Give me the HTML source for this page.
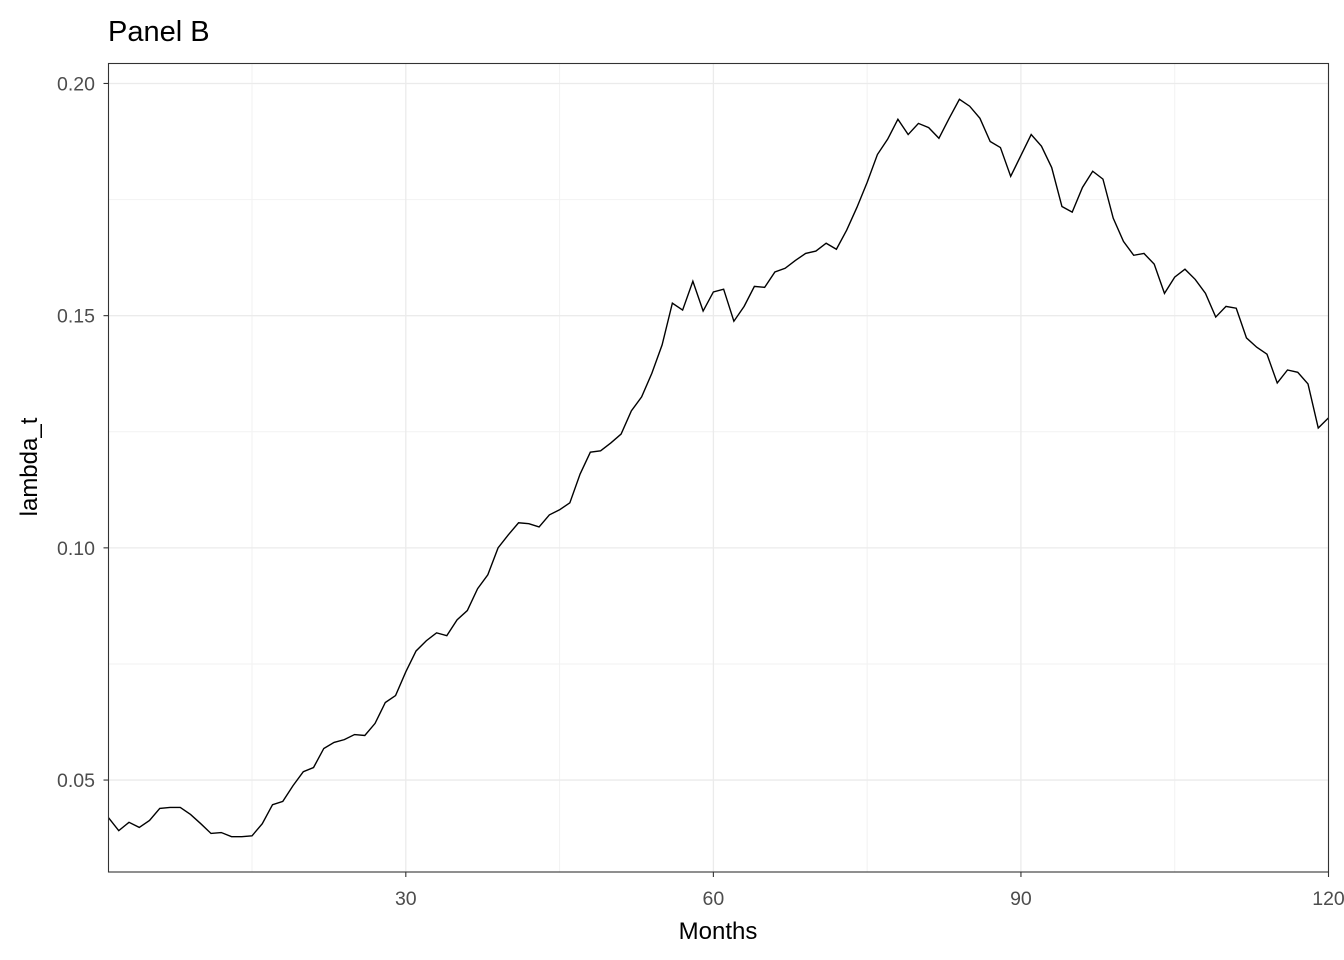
<!DOCTYPE html>
<html><head><meta charset="utf-8"><style>
body{margin:0;background:#fff;}
svg{display:block;font-family:"Liberation Sans",Arial,sans-serif;}
</style></head><body>
<svg width="1344" height="960" viewBox="0 0 1344 960">
<rect width="1344" height="960" fill="#fff"/>
<text x="108" y="41" font-size="29" fill="#000">Panel B</text>
<g id="grid"></g>
<g id="axes"></g>
<path id="line" fill="none" stroke="#000" stroke-width="1.4"/>
<rect x="108.5" y="63.5" width="1220" height="808.5" fill="none" stroke="#333" stroke-width="1.1"/>
<text x="718" y="939" font-size="24" text-anchor="middle" fill="#000">Months</text>
<text transform="translate(37,467) rotate(-90)" font-size="24" text-anchor="middle" fill="#000">lambda_t</text>
</svg>
<script>
const months = Array.from({length:120},(_,i)=>i+1);
const lambdaValues = [0.0419,0.0391,0.0409,0.0398,0.0413,0.0439,0.0441,0.0441,0.0426,0.0406,
0.0385,0.0387,0.0378,0.0378,0.0380,0.0406,0.0447,0.0454,0.0488,0.0518,
0.0527,0.0568,0.0581,0.0587,0.0598,0.0596,0.0622,0.0667,0.0682,0.0733,
0.0778,0.0800,0.0817,0.0811,0.0845,0.0865,0.0912,0.0942,0.1000,0.1028,
0.1054,0.1052,0.1045,0.1071,0.1082,0.1097,0.1159,0.1206,0.1209,0.1226,
0.1245,0.1295,0.1325,0.1376,0.1437,0.1527,0.1512,0.1574,0.1510,0.1551,
0.1557,0.1488,0.1520,0.1563,0.1561,0.1594,0.1602,0.1619,0.1634,0.1639,
0.1656,0.1643,0.1684,0.1733,0.1787,0.1847,0.1880,0.1923,0.1890,0.1914,
0.1905,0.1882,0.1925,0.1966,0.1951,0.1925,0.1875,0.1862,0.1800,0.1845,
0.1890,0.1865,0.1819,0.1735,0.1723,0.1776,0.1811,0.1794,0.1710,0.1660,
0.1630,0.1634,0.1611,0.1548,0.1583,0.1600,0.1578,0.1548,0.1497,0.1520,
0.1516,0.1452,0.1432,0.1417,0.1355,0.1383,0.1378,0.1353,0.1258,0.1280];
const xTicks = [30,60,90,120];
const xMinor = [15,45,75,105];
const yTicks = [0.05,0.10,0.15,0.20];
const yTickLabels = ["0.05","0.10","0.15","0.20"];
const yMinor = [0.075,0.125,0.175];

const X0=108.5,X1=1328.5,Y0=872,Y1=63.5;
const xMin=1,xMax=120,yMin=0.0302,yMax=0.2043;
const xs=v=>X0+(v-xMin)/(xMax-xMin)*(X1-X0);
const ys=v=>Y0-(v-yMin)/(yMax-yMin)*(Y0-Y1);
const NS="http://www.w3.org/2000/svg";
const grid=document.getElementById('grid'), axes=document.getElementById('axes');
function line(g,x1,y1,x2,y2,c,w){const l=document.createElementNS(NS,'line');
l.setAttribute('x1',x1);l.setAttribute('y1',y1);l.setAttribute('x2',x2);l.setAttribute('y2',y2);
l.setAttribute('stroke',c);l.setAttribute('stroke-width',w);g.appendChild(l);return l;}
function text(g,x,y,s,anchor){const t=document.createElementNS(NS,'text');
t.setAttribute('x',x);t.setAttribute('y',y);t.setAttribute('font-size','19.5');t.setAttribute('fill','#4d4d4d');
t.setAttribute('text-anchor',anchor);t.textContent=s;g.appendChild(t);return t;}
xMinor.forEach(v=>{const l=line(grid,xs(v),Y1,xs(v),Y0,'#f2f2f2',1);

});
yMinor.forEach(v=>{const l=line(grid,X0,ys(v),X1,ys(v),'#f2f2f2',1);

});
xTicks.forEach(v=>{const l=line(grid,xs(v),Y1,xs(v),Y0,'#ebebeb',1.3);


const tk=line(axes,xs(v),Y0,xs(v),Y0+5,'#333',1.1);


const t=text(axes,xs(v),905,String(v),'middle');

});
yTicks.forEach((v,i)=>{const l=line(grid,X0,ys(v),X1,ys(v),'#ebebeb',1.3);


const tk=line(axes,X0-5,ys(v),X0,ys(v),'#333',1.1);


const t=text(axes,95,ys(v)+7,yTickLabels[i],'end');

});
document.getElementById('line').setAttribute('d',
 months.map((m,i)=>(i?'L':'M')+xs(m).toFixed(2)+','+ys(lambdaValues[i]).toFixed(2)).join(''));
</script>
</body></html>
